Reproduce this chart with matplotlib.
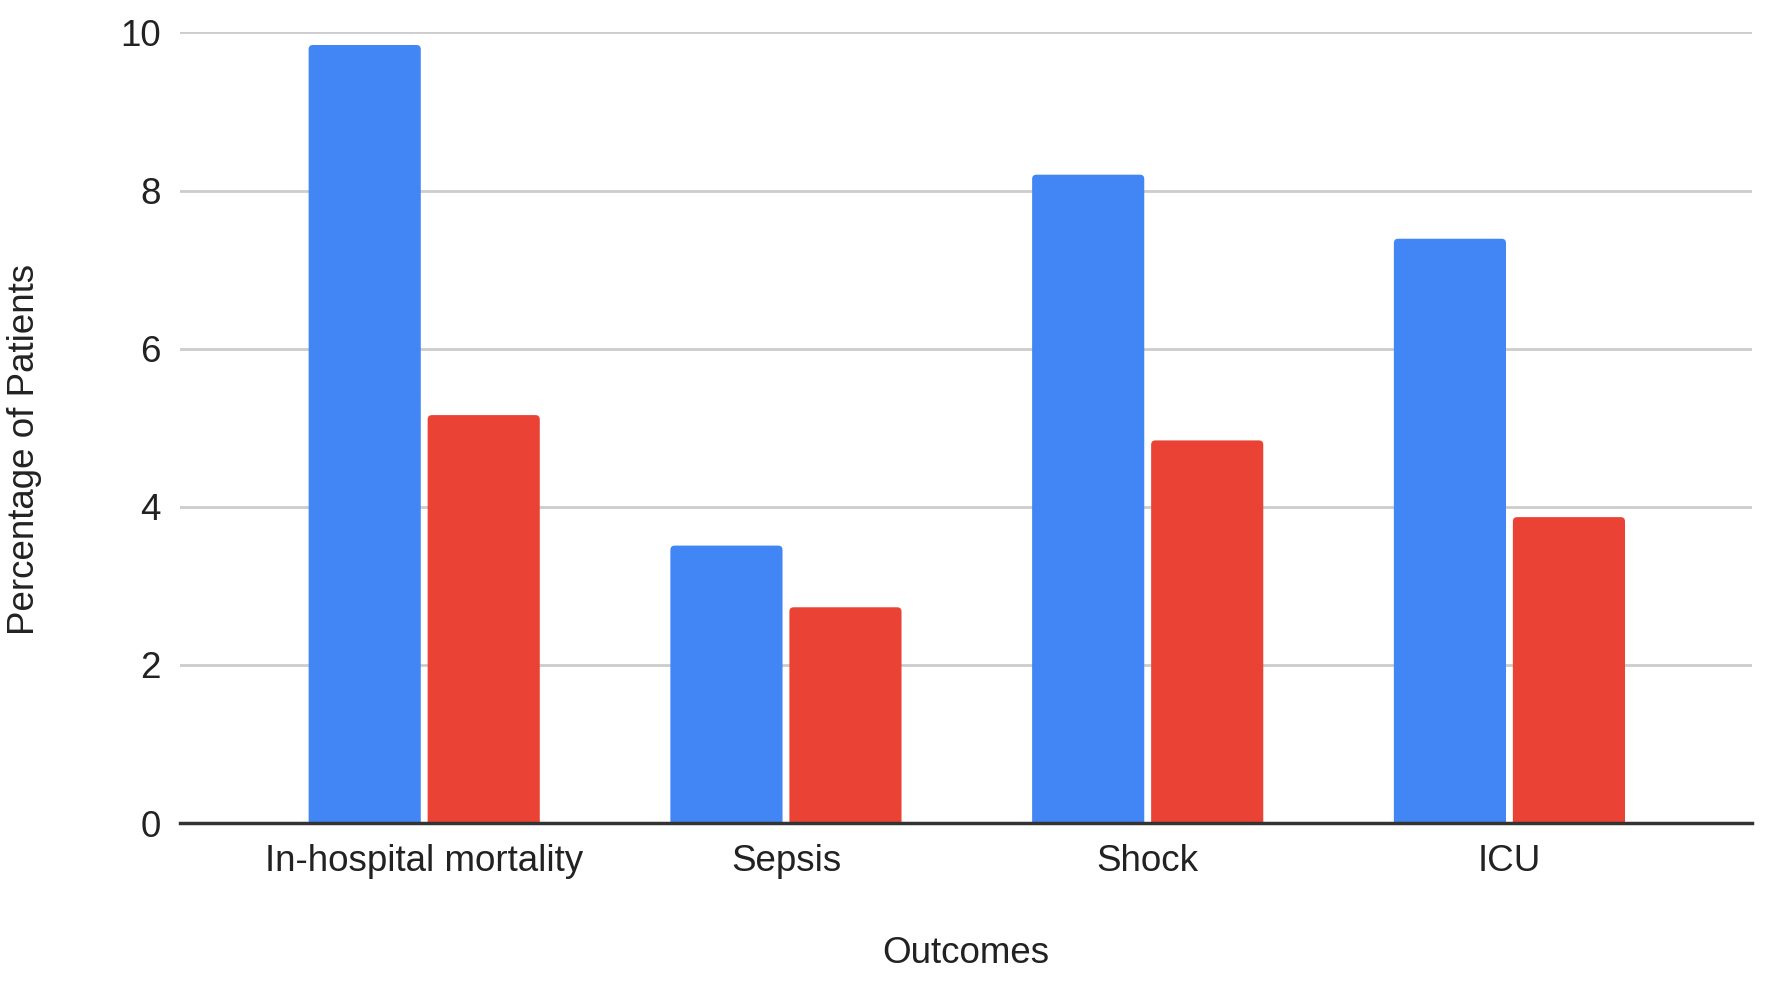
import matplotlib.pyplot as plt
from matplotlib.patches import FancyBboxPatch
import numpy as np

# Données
categories = ['In-hospital mortality', 'Sepsis', 'Shock', 'ICU']
serie_bleue = [9.84, 3.51, 8.20, 7.39]
serie_rouge = [5.16, 2.73, 4.84, 3.87]
yticks = [0, 2, 4, 6, 8, 10]

plt.rcParams['font.family'] = ['Liberation Sans', 'DejaVu Sans']

fig = plt.figure(figsize=(17.72, 9.83), dpi=100)
ax = fig.add_axes([0.1016, 0.1626, 0.887, 0.8045])

x = np.arange(len(categories))
largeur = 0.31
ecart = 0.0095

barres_b = ax.bar(x - largeur / 2 - ecart, serie_bleue, largeur, color='#4285F4', zorder=3)
barres_r = ax.bar(x + largeur / 2 + ecart, serie_rouge, largeur, color='#EA4335', zorder=3)

# coins arrondis en haut des barres
rayon = 0.012
aspect = 4.5
for barres in [barres_b, barres_r]:
    for r in barres:
        r.set_visible(False)
        p = FancyBboxPatch((r.get_x(), -0.1), r.get_width(), r.get_height() + 0.1,
                           boxstyle=f'round,pad=0,rounding_size={rayon}',
                           mutation_aspect=aspect, facecolor=r.get_facecolor(),
                           edgecolor='none', zorder=3)
        ax.add_patch(p)

ax.set_xlim(-0.675, 3.67)
ax.set_ylim(0, 10)
ax.set_yticks(yticks)
ax.set_xticks(x)
ax.set_xticklabels(categories)

ax.grid(axis='y', color='#cccccc', linewidth=2, zorder=0)
ax.tick_params(axis='both', length=0, labelsize=26.5, colors='#222222')
ax.tick_params(axis='y', pad=14)
ax.tick_params(axis='x', pad=15)

for s in ['top', 'right', 'left']:
    ax.spines[s].set_visible(False)
ax.spines['bottom'].set_color('#333333')
ax.spines['bottom'].set_linewidth(2.5)
ax.spines['bottom'].set_zorder(4)

fig.text(0.014, 0.543, 'Percentage of Patients', rotation=90, va='center', ha='center',
         fontsize=26.5, color='#222222')
fig.text(0.545, 0.03, 'Outcomes', va='center', ha='center', fontsize=26.5, color='#222222')

plt.savefig('out.png', dpi=100)
